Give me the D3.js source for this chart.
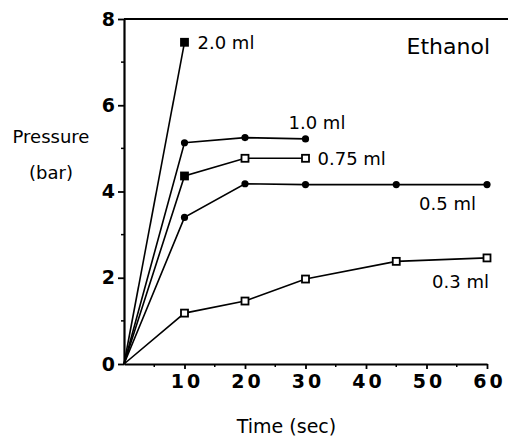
<!DOCTYPE html>
<html>
<head>
<meta charset="utf-8">
<script src="https://cdn.jsdelivr.net/npm/d3@7"></script>
<style>
  body { margin: 0; background: #fff; }
  svg text { font-family: "DejaVu Sans", Verdana, sans-serif; fill: #000; }
</style>
</head>
<body>
<div id="chart"></div>
<script>
// time points (sec) for each run
var times05 = [0, 10, 20, 30, 45, 60];
var times03 = [0, 10, 20, 30, 45, 60];
var times20 = [0, 10];
var times10 = [0, 10, 20, 30];
var times075 = [0, 10, 20, 30];

// pressure (bar)
var p20 = [0, 7.46];
var p10 = [0, 5.13, 5.25, 5.22];
var p075 = [0, 4.36, 4.77, 4.77];
var p05 = [0, 3.4, 4.18, 4.16, 4.16, 4.16];
var p03 = [0, 1.18, 1.46, 1.97, 2.38, 2.46];

var seriesNames = ['2.0 ml', '1.0 ml', '0.75 ml', '0.5 ml', '0.3 ml'];
var xTicks = [10, 20, 30, 40, 50, 60];
var yTicks = [0, 2, 4, 6, 8];
var title = 'Ethanol';

function zip(t, p) {
    return t.map(function(d, i) { return {t: d, p: p[i]}; });
}

var series = [
    {name: seriesNames[0], values: zip(times20, p20), marker: 'square', fill: 'all', ldx: 13, ldy: 0, anchor: 'start'},
    {name: seriesNames[1], values: zip(times10, p10), marker: 'dot', fill: 'all', ldx: -17, ldy: -16, anchor: 'start'},
    {name: seriesNames[2], values: zip(times075, p075), marker: 'square', fill: 'first', ldx: 12, ldy: 0, anchor: 'start'},
    {name: seriesNames[3], values: zip(times05, p05), marker: 'dot', fill: 'all', ldx: -11, ldy: 19, anchor: 'end'},
    {name: seriesNames[4], values: zip(times03, p03), marker: 'square', fill: 'none', ldx: 2, ldy: 24, anchor: 'end'}
];

//Basic setting
var w = 508, h = 437;
var margin = {top: 19, right: 21, bottom: 73, left: 124};
var innerW = w - margin.left - margin.right,
    innerH = h - margin.top - margin.bottom;

var svg = d3.select('#chart').append('svg')
    .attr('width', w)
    .attr('height', h)
    .append('g')
    .attr('transform', 'translate(' + [margin.left, margin.top] + ')');

var x = d3.scaleLinear().domain([0, 60]).range([0, innerW]);
var y = d3.scaleLinear().domain([0, 8]).range([innerH, 0]);

//Top frame line
svg.append('line')
    .attr('x1', 0).attr('x2', w - margin.left)
    .attr('y1', y(8)).attr('y2', y(8))
    .style('stroke', '#000')
    .style('stroke-width', 2);

//Axes
var xAxis = d3.axisBottom(x)
    .tickValues(xTicks)
    .tickSize(5)
    .tickSizeOuter(0)
    .tickPadding(6);
var yAxis = d3.axisLeft(y)
    .tickValues(yTicks)
    .tickSize(6)
    .tickSizeOuter(0)
    .tickPadding(3);

var gx = svg.append('g')
    .attr('class', 'x axis')
    .attr('transform', 'translate(0,' + innerH + ')')
    .call(xAxis);
var gy = svg.append('g')
    .attr('class', 'y axis')
    .call(yAxis);

// minor ticks
gx.selectAll('line.minor')
    .data(d3.range(5, 60, 10))
  .enter().append('line')
    .attr('class', 'minor')
    .attr('x1', function(d) { return x(d); })
    .attr('x2', function(d) { return x(d); })
    .attr('y1', 0).attr('y2', 3)
    .style('stroke', '#000').style('stroke-width', 1.5);
gy.selectAll('line.minor')
    .data(d3.range(1, 8, 2))
  .enter().append('line')
    .attr('class', 'minor')
    .attr('y1', function(d) { return y(d); })
    .attr('y2', function(d) { return y(d); })
    .attr('x1', 0).attr('x2', -3)
    .style('stroke', '#000').style('stroke-width', 1.5);

svg.selectAll('.axis path.domain').style('stroke', '#000').style('stroke-width', 2.2);
svg.selectAll('.axis .tick line').style('stroke', '#000').style('stroke-width', 1.8);
gx.selectAll('.tick text')
    .style('font-size', '19px')
    .style('font-weight', 'bold')
    .style('letter-spacing', '3px')
    .attr('dx', '2px');
gy.selectAll('.tick text')
    .style('font-size', '19px')
    .style('font-weight', 'bold');

//Axis titles
svg.append('text')
    .attr('x', -73).attr('y', 124)
    .attr('text-anchor', 'middle')
    .style('font-size', '18px')
    .text('Pressure');
svg.append('text')
    .attr('x', -73).attr('y', 160)
    .attr('text-anchor', 'middle')
    .style('font-size', '18px')
    .text('(bar)');
svg.append('text')
    .attr('x', x(30) - 19).attr('y', innerH + 69)
    .attr('text-anchor', 'middle')
    .style('font-size', '19px')
    .text('Time (sec)');

svg.append('text')
    .attr('x', innerW + 3).attr('y', 35)
    .attr('text-anchor', 'end')
    .style('font-size', '22px')
    .text(title);

//Lines
var line = d3.line()
    .x(function(d) { return x(d.t); })
    .y(function(d) { return y(d.p); });

svg.selectAll('path.line')
    .data(series)
  .enter().append('path')
    .attr('class', 'line')
    .style('fill', 'none')
    .style('stroke', '#000')
    .style('stroke-width', 1.6)
    .attr('d', function(d) { return line(d.values); });

//Markers
series.forEach(function(s) {
    var pts = s.values.filter(function(d) { return d.t > 0; });
    var g = svg.append('g').attr('class', 'markers');
    pts.forEach(function(d, i) {
        var filled = s.fill === 'all' || (s.fill === 'first' && i === 0);
        if (s.marker === 'square') {
            g.append('rect')
                .attr('x', x(d.t) - 3.5)
                .attr('y', y(d.p) - 3.5)
                .attr('width', 7).attr('height', 7)
                .style('fill', filled ? '#000' : '#fff')
                .style('stroke', '#000')
                .style('stroke-width', 1.8);
        } else {
            g.append('circle')
                .attr('cx', x(d.t))
                .attr('cy', y(d.p))
                .attr('r', 3.6)
                .style('fill', '#000');
        }
    });
    var last = s.values[s.values.length - 1];
    svg.append('text')
        .attr('class', 'label')
        .attr('x', x(last.t) + s.ldx)
        .attr('y', y(last.p) + s.ldy)
        .attr('dy', '0.35em')
        .attr('text-anchor', s.anchor)
        .style('font-size', '18px')
        .text(s.name);
});
</script>
</body>
</html>
